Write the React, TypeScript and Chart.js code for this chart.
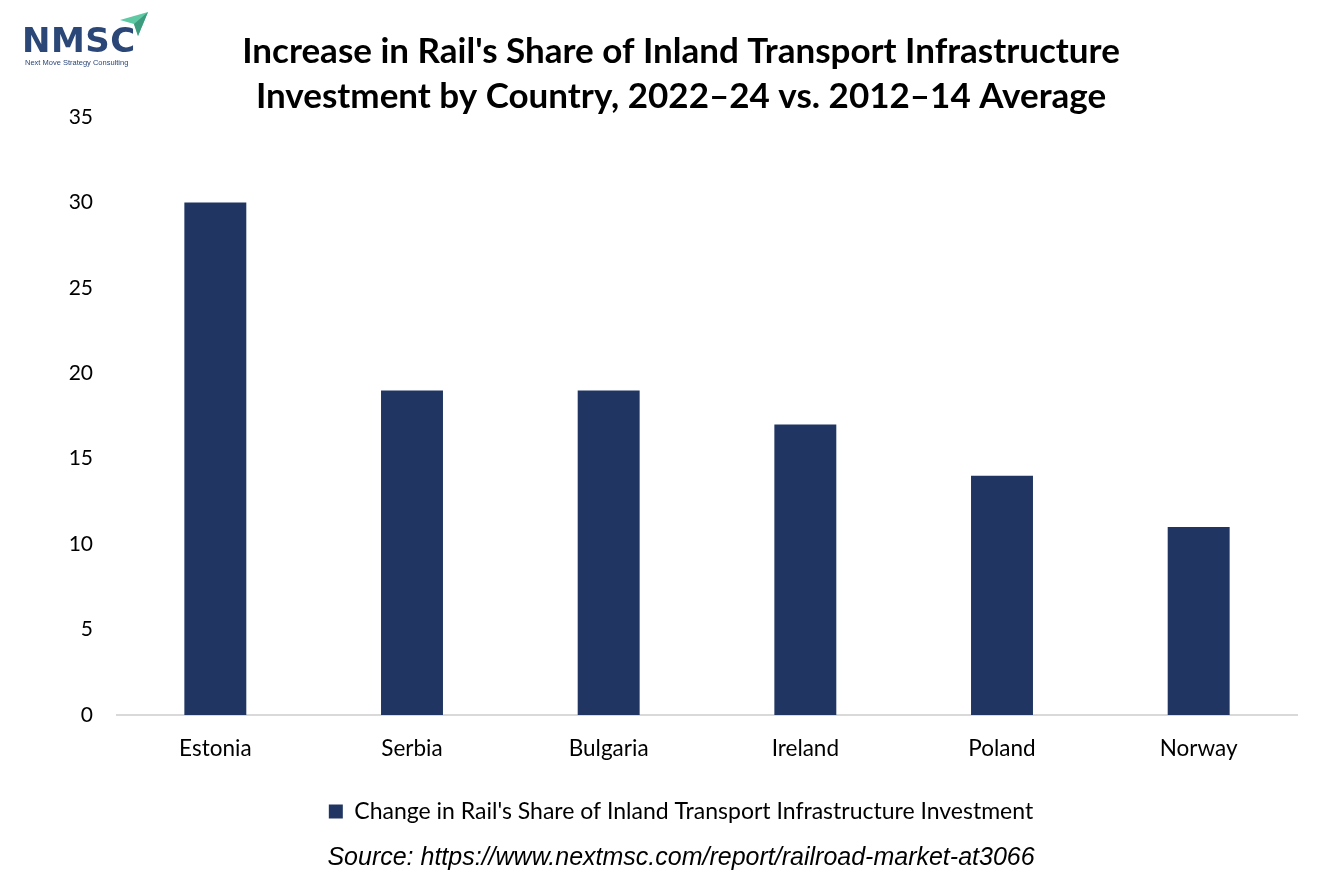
import React, { useEffect, useRef } from "react";
import { Chart, registerables } from "chart.js";

Chart.register(...registerables);

const categories = ["Estonia", "Serbia", "Bulgaria", "Ireland", "Poland", "Norway"];
const values = [30, 19, 19, 17, 14, 11];
const seriesLabel = "Change in Rail's Share of Inland Transport Infrastructure Investment";
const titleLines = [
  "Increase in Rail's Share of Inland Transport Infrastructure",
  "Investment by Country, 2022\u201324 vs. 2012\u201314 Average",
];
const sourceText = "Source: https://www.nextmsc.com/report/railroad-market-at3066";

const FONT = "Lato, 'Open Sans', sans-serif";

export default function App() {
  const ref = useRef<HTMLCanvasElement | null>(null);
  useEffect(() => {
    if (!ref.current) return;
    const chart = new Chart(ref.current, {
      type: "bar",
      data: {
        labels: categories,
        datasets: [
          {
            label: seriesLabel,
            data: values,
            backgroundColor: "#203562",
            borderWidth: 0,
            categoryPercentage: 0.315,
            barPercentage: 1,
          },
        ],
      },
      options: {
        animation: false,
        responsive: false,
        maintainAspectRatio: false,
        layout: { padding: { left: 65, right: 37, top: 0, bottom: 10 } },
        plugins: {
          tooltip: { enabled: false },
          title: {
            display: true,
            text: titleLines,
            color: "#000",
            font: { family: FONT, size: 35, weight: "bold", lineHeight: 1.286 },
            padding: { top: 29.5, bottom: -2.5 },
          },
          subtitle: {
            display: true,
            position: "bottom",
            text: sourceText,
            color: "#000",
            font: { family: "'Liberation Sans', Arial, sans-serif", size: 25, style: "italic" },
            padding: { top: 10, bottom: 6 },
          },
          legend: {
            display: true,
            position: "bottom",
            labels: {
              color: "#000",
              font: { family: FONT, size: 23 },
              boxWidth: 14,
              boxHeight: 14,
              padding: 18,
            },
          },
        },
        scales: {
          x: {
            grid: { display: false, drawTicks: false },
            border: { display: true, color: "#d9d9d9", width: 2 },
            ticks: { color: "#000", font: { family: FONT, size: 22.5 }, padding: 20 },
          },
          y: {
            min: 0,
            max: 35,
            grid: { display: false, drawTicks: false },
            border: { display: false },
            ticks: { stepSize: 5, color: "#000", font: { family: FONT, size: 21 }, padding: 24 },
            afterFit: (axis: any) => {
              axis.width = 52;
            },
          },
        },
      },
    });
    return () => chart.destroy();
  }, []);

  return (
    <div style={{ position: "absolute", left: 0, top: 0, width: 1334, height: 889, background: "#fff" }}>
      <canvas ref={ref} width={1334} height={889} style={{ display: "block" }} />
      <div style={{ position: "absolute", left: 22, top: 20 }}>
        <div
          style={{
            fontFamily: "'DejaVu Sans', sans-serif",
            fontWeight: "bold",
            fontSize: 34,
            letterSpacing: 0.5,
            color: "#2b4778",
            lineHeight: "40px",
          }}
        >
          NMSC
        </div>
        <div style={{ fontFamily: "'Liberation Sans', sans-serif", fontSize: 7.5, color: "#2b4778", marginTop: -2, marginLeft: 3 }}>
          Next Move Strategy Consulting
        </div>
        <svg width="32" height="26" style={{ position: "absolute", left: 96, top: -8 }}>
          <polygon points="2,8 30,0 20,24 16,12" fill="#5fc9a4" />
          <polygon points="16,12 30,0 20,24" fill="#3e9c7e" />
        </svg>
      </div>
    </div>
  );
}
